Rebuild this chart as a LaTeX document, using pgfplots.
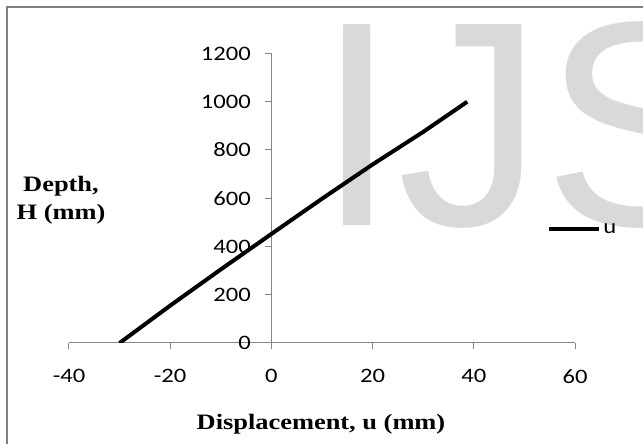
\documentclass[border=0pt]{standalone}
\usepackage{fontspec}
\usepackage{pgfplots}
\pgfplotsset{compat=1.18}
\setmainfont{Carlito}[FakeStretch=1.2]
\newfontfamily\tnr{Liberation Serif}[FakeStretch=1.2]
\newfontfamily\wmark{Liberation Sans}
\definecolor{axgray}{RGB}{134,134,134}
\definecolor{wm}{RGB}{217,217,217}
\definecolor{frame}{RGB}{128,128,128}

\begin{document}
\begin{tikzpicture}
% page = 643 x 444, axis box lower left at (0,0)
\path[use as bounding box] (-69pt,-101pt) rectangle (574pt,343pt);
\draw[frame, line width=2pt] (-62pt,-105pt) -- (-62pt,336pt) -- (580pt,336pt);
\node[wm, anchor=base west, inner sep=0pt, font=\wmark\fontsize{292}{300}\selectfont]
  at (247pt,117pt) {IJS};

\begin{axis}[
    scale only axis,
    width=506pt, height=289.5pt,
    xmin=-40, xmax=60, ymin=0, ymax=1200,
    axis lines=middle,
    axis line style={axgray, line width=1pt, -},
    hide obscured x ticks=false,
    hide obscured y ticks=false,
    xtick={-40,-20,0,20,40,60},
    ytick={0,200,400,600,800,1000,1200},
    tick align=outside,
    major tick length=6pt,
    tick style={axgray, line width=1pt},
    ticklabel style={font=\fontsize{20.5}{24}\selectfont, text=black},
    /pgf/number format/assume math mode=true,
    /pgf/number format/1000 sep={},
    xticklabel style={yshift=-17pt},
    yticklabel style={xshift=-11pt},
    legend style={draw=none, fill=none, at={(0.945,0.394)}, anchor=west,
      inner sep=0pt, font=\fontsize{20.5}{24}\selectfont},
    legend image code/.code={\draw[line width=4pt] (0pt,0pt) -- (50pt,0pt);},
]
\addplot[black, line width=4pt, line join=round] coordinates {
  (-30,0) (-20,155) (-10,305) (0,452) (10,598) (20,740) (30,875) (38.7,1000)
};
\addlegendentry{u}
\end{axis}

\node[anchor=base, font=\tnr\bfseries\fontsize{22}{28}\selectfont] at (252pt,-87pt)
  {Displacement, u (mm)};
\node[align=center, font=\tnr\bfseries\fontsize{22}{28}\selectfont] at (-8pt,143pt)
  {Depth,\\H (mm)};
\end{tikzpicture}
\end{document}
